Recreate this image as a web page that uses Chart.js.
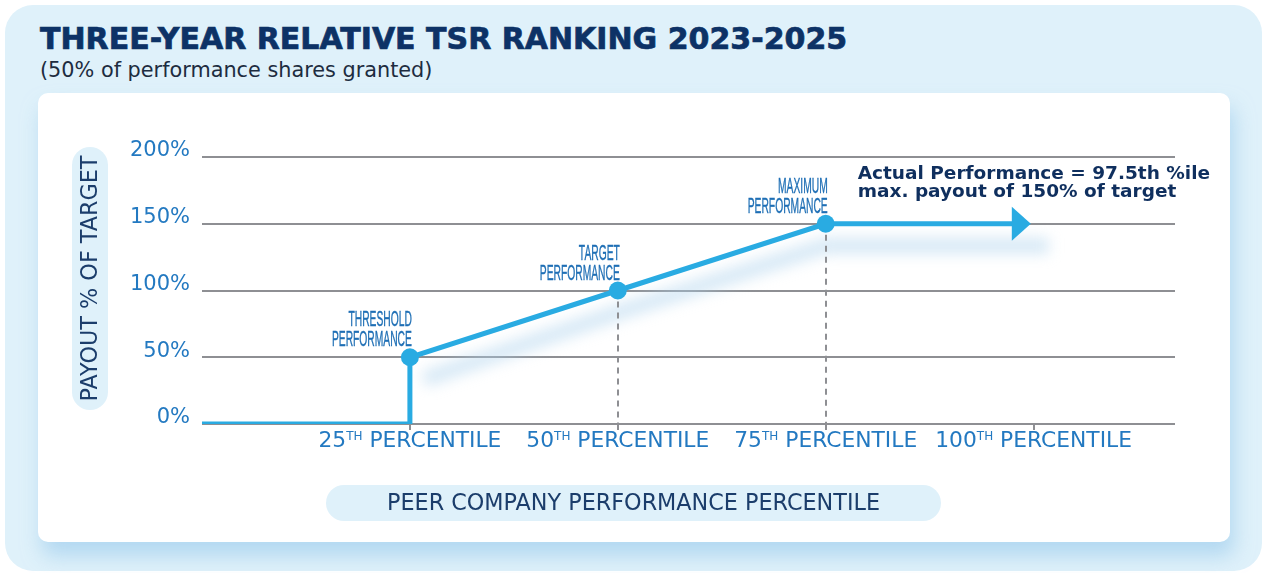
<!DOCTYPE html>
<html>
<head>
<meta charset="utf-8">
<title>Three-Year Relative TSR Ranking 2023-2025</title>
<script src="https://cdn.jsdelivr.net/npm/chart.js@4.4.1/dist/chart.umd.min.js"></script>
<style>
  html, body { margin: 0; padding: 0; background: #fff; width: 1263px; height: 573px; overflow: hidden; }
  #panel { position: absolute; left: 5px; top: 5px; width: 1257px; height: 566px; background: #dff1fa; border-radius: 28px; }
  #title { position: absolute; left: 40px; top: 24px; margin: 0; font: bold 30px/30px "DejaVu Sans", sans-serif; color: #0d3266;
           -webkit-text-stroke: 0.7px #0d3266; white-space: nowrap; }
  #subtitle { position: absolute; left: 40px; top: 60px; font: 20.8px/20px "DejaVu Sans", sans-serif; color: #1d2c40; white-space: nowrap; }
  #card { position: absolute; left: 38px; top: 93px; width: 1192px; height: 449px; background: #fff; border-radius: 10px;
          box-shadow: 4px 14px 20px rgba(150, 200, 235, 0.6); }
  #card canvas { position: absolute; left: 0; top: 0; }
</style>
</head>
<body>
<div id="panel"></div>
<h1 id="title">THREE-YEAR RELATIVE TSR RANKING 2023-2025</h1>
<div id="subtitle">(50% of performance shares granted)</div>
<div id="card"><canvas id="tsrChart" width="1192" height="449"></canvas></div>

<script>
// payout curve (percentile -> % of target)
var linePct = [0, 25, 25, 50, 75, 97.5];
var linePayout = [0, 0, 50, 100, 150, 150];

// threshold / target / maximum points
var milestonePct = [25, 50, 75];
var milestonePayout = [50, 100, 150];
var milestoneLabels = [['THRESHOLD', 'PERFORMANCE'], ['TARGET', 'PERFORMANCE'], ['MAXIMUM', 'PERFORMANCE']];

// axis ticks
var tickPct = [25, 50, 75, 100];
var tickNames = ['25', '50', '75', '100'];
var payoutTicks = [0, 50, 100, 150, 200];

var actualNote = ['Actual Performance = 97.5th %ile', 'max. payout of 150% of target'];
var yTitle = 'PAYOUT % OF TARGET';
var xTitle = 'PEER COMPANY PERFORMANCE PERCENTILE';

var BLUE = '#29abe2';
var GRID = '#8e8f93';
var TICK_BLUE = '#2379c1';
var NAVY = '#0f2f5e';
var FONT = '"DejaVu Sans", sans-serif';

function pill(ctx, x, y, w, h, r) {
	ctx.beginPath();
	ctx.roundRect(x, y, w, h, r);
	ctx.fillStyle = '#dff1fa';
	ctx.fill();
}

var decor = {
	id: 'decor',
	beforeDraw: function(chart) {
		var ctx = chart.ctx;
		ctx.save();
		// y axis title pill
		pill(ctx, 34, 54, 36, 263, 18);
		ctx.translate(52, 185.5);
		ctx.rotate(-Math.PI / 2);
		ctx.fillStyle = '#1b3d6b';
		ctx.font = '22.3px ' + FONT;
		ctx.textAlign = 'center';
		ctx.textBaseline = 'middle';
		ctx.fillText(yTitle, 0, 1);
		ctx.restore();

		// x axis title pill
		ctx.save();
		pill(ctx, 288, 392, 615, 36, 18);
		ctx.fillStyle = '#1b3d6b';
		ctx.font = '22.3px ' + FONT;
		ctx.textAlign = 'center';
		ctx.textBaseline = 'middle';
		ctx.fillText(xTitle, 595.5, 411);
		ctx.restore();
	},
	beforeDatasetsDraw: function(chart) {
		var ctx = chart.ctx, x = chart.scales.x, y = chart.scales.y;
		var last = linePct.length - 1;

		// soft shadow under the curve
		ctx.save();
		ctx.filter = 'blur(7px)';
		ctx.strokeStyle = 'rgba(175, 212, 238, 0.5)';
		ctx.lineWidth = 16;
		ctx.lineJoin = 'round';
		ctx.beginPath();
		ctx.moveTo(x.getPixelForValue(milestonePct[0]) + 14, y.getPixelForValue(milestonePayout[0]) + 22);
		for (var i = 1; i < milestonePct.length; i++) {
			ctx.lineTo(x.getPixelForValue(milestonePct[i]), y.getPixelForValue(milestonePayout[i]) + 22);
		}
		ctx.lineTo(x.getPixelForValue(linePct[last]) + 36, y.getPixelForValue(linePayout[last]) + 22);
		ctx.stroke();
		ctx.restore();

		// dashed drop lines from target and maximum
		ctx.save();
		ctx.setLineDash([6, 5]);
		ctx.strokeStyle = GRID;
		ctx.lineWidth = 2;
		for (var j = 1; j < milestonePct.length; j++) {
			var px = Math.round(x.getPixelForValue(milestonePct[j]));
			ctx.beginPath();
			ctx.moveTo(px, y.getPixelForValue(milestonePayout[j]));
			ctx.lineTo(px, y.getPixelForValue(0));
			ctx.stroke();
		}
		ctx.restore();
	},
	afterDatasetsDraw: function(chart) {
		var ctx = chart.ctx, x = chart.scales.x, y = chart.scales.y;
		var last = linePct.length - 1;
		var ax = x.getPixelForValue(linePct[last]);
		var ay = y.getPixelForValue(linePayout[last]);

		// arrow head
		ctx.save();
		ctx.fillStyle = BLUE;
		ctx.beginPath();
		ctx.moveTo(ax - 1, ay - 17);
		ctx.lineTo(ax + 18, ay);
		ctx.lineTo(ax - 1, ay + 17);
		ctx.closePath();
		ctx.fill();
		ctx.restore();

		// condensed milestone labels
		ctx.save();
		ctx.font = '22px "Liberation Sans", sans-serif';
		ctx.fillStyle = '#1f6fb5';
		ctx.strokeStyle = '#1f6fb5';
		ctx.lineWidth = 0.4;
		ctx.textAlign = 'right';
		ctx.textBaseline = 'alphabetic';
		var squeeze = 80 / ctx.measureText('PERFORMANCE').width;
		for (var i = 0; i < milestonePct.length; i++) {
			var px = x.getPixelForValue(milestonePct[i]) + 2;
			var py = y.getPixelForValue(milestonePayout[i]);
			ctx.save();
			ctx.translate(px, py);
			ctx.scale(squeeze, 1);
			for (var r = 0; r < 2; r++) {
				ctx.fillText(milestoneLabels[i][r], 0, -31 + r * 20);
				ctx.strokeText(milestoneLabels[i][r], 0, -31 + r * 20);
			}
			ctx.restore();
		}
		ctx.restore();

		// actual performance note
		ctx.save();
		ctx.font = 'bold 18.5px ' + FONT;
		ctx.fillStyle = NAVY;
		ctx.textAlign = 'left';
		var mx = x.getPixelForValue(milestonePct[2]) + 32;
		var my = y.getPixelForValue(milestonePayout[2]);
		ctx.fillText(actualNote[0], mx, my - 45);
		ctx.fillText(actualNote[1], mx, my - 27);
		ctx.restore();

		// x tick labels with superscript TH
		ctx.save();
		ctx.fillStyle = TICK_BLUE;
		ctx.textAlign = 'left';
		var base = y.getPixelForValue(0) + 23;
		var big = '21.8px ' + FONT, small = '12px ' + FONT;
		for (var k = 0; k < tickPct.length; k++) {
			ctx.font = big;
			var wNum = ctx.measureText(tickNames[k]).width;
			var wRest = ctx.measureText(' PERCENTILE').width;
			ctx.font = small;
			var wSup = ctx.measureText('TH').width;
			var cx = x.getPixelForValue(tickPct[k]);
			var sx = cx - (wNum + wSup + wRest) / 2;
			ctx.font = big;
			ctx.fillText(tickNames[k], sx, base);
			ctx.font = small;
			ctx.fillText('TH', sx + wNum, base - 7);
			ctx.font = big;
			ctx.fillText(' PERCENTILE', sx + wNum + wSup, base);
		}
		ctx.restore();
	}
};

var ctx = document.getElementById('tsrChart');
var tsrChart = new Chart(ctx, {
	type: 'scatter',
	data: {
		datasets: [{
			label: 'Milestones',
			data: milestonePct.map(function(p, i) { return { x: p, y: milestonePayout[i] }; }),
			showLine: false,
			pointRadius: 9,
			pointBackgroundColor: BLUE,
			pointBorderWidth: 0,
			order: 0
		}, {
			label: 'Payout',
			data: linePct.map(function(p, i) { return { x: p, y: linePayout[i] }; }),
			showLine: true,
			borderColor: BLUE,
			borderWidth: 5,
			pointRadius: 0,
			tension: 0,
			order: 1
		}]
	},
	options: {
		responsive: false,
		animation: false,
		devicePixelRatio: 1,
		layout: { padding: { left: 0, top: 64, right: 55, bottom: 0 } },
		plugins: {
			legend: { display: false },
			tooltip: { enabled: false }
		},
		scales: {
			x: {
				type: 'linear',
				min: 0,
				max: 117,
				afterBuildTicks: function(scale) {
					scale.ticks = tickPct.map(function(v) { return { value: v }; });
				},
				afterFit: function(scale) { scale.height = 118; },
				ticks: { display: false },
				grid: { drawOnChartArea: false, drawTicks: true, tickLength: 6, color: GRID, lineWidth: 2 },
				border: { display: false }
			},
			y: {
				min: 0,
				max: 200,
				afterBuildTicks: function(scale) {
					scale.ticks = payoutTicks.map(function(v) { return { value: v }; });
				},
				afterFit: function(scale) { scale.width = 164; },
				ticks: {
					padding: 12,
					labelOffset: -6,
					color: TICK_BLUE,
					font: { family: FONT, size: 21 },
					callback: function(v) { return v + '%'; }
				},
				grid: { color: GRID, lineWidth: 2, drawTicks: false },
				border: { display: false }
			}
		}
	},
	plugins: [decor]
});
</script>
</body>
</html>
